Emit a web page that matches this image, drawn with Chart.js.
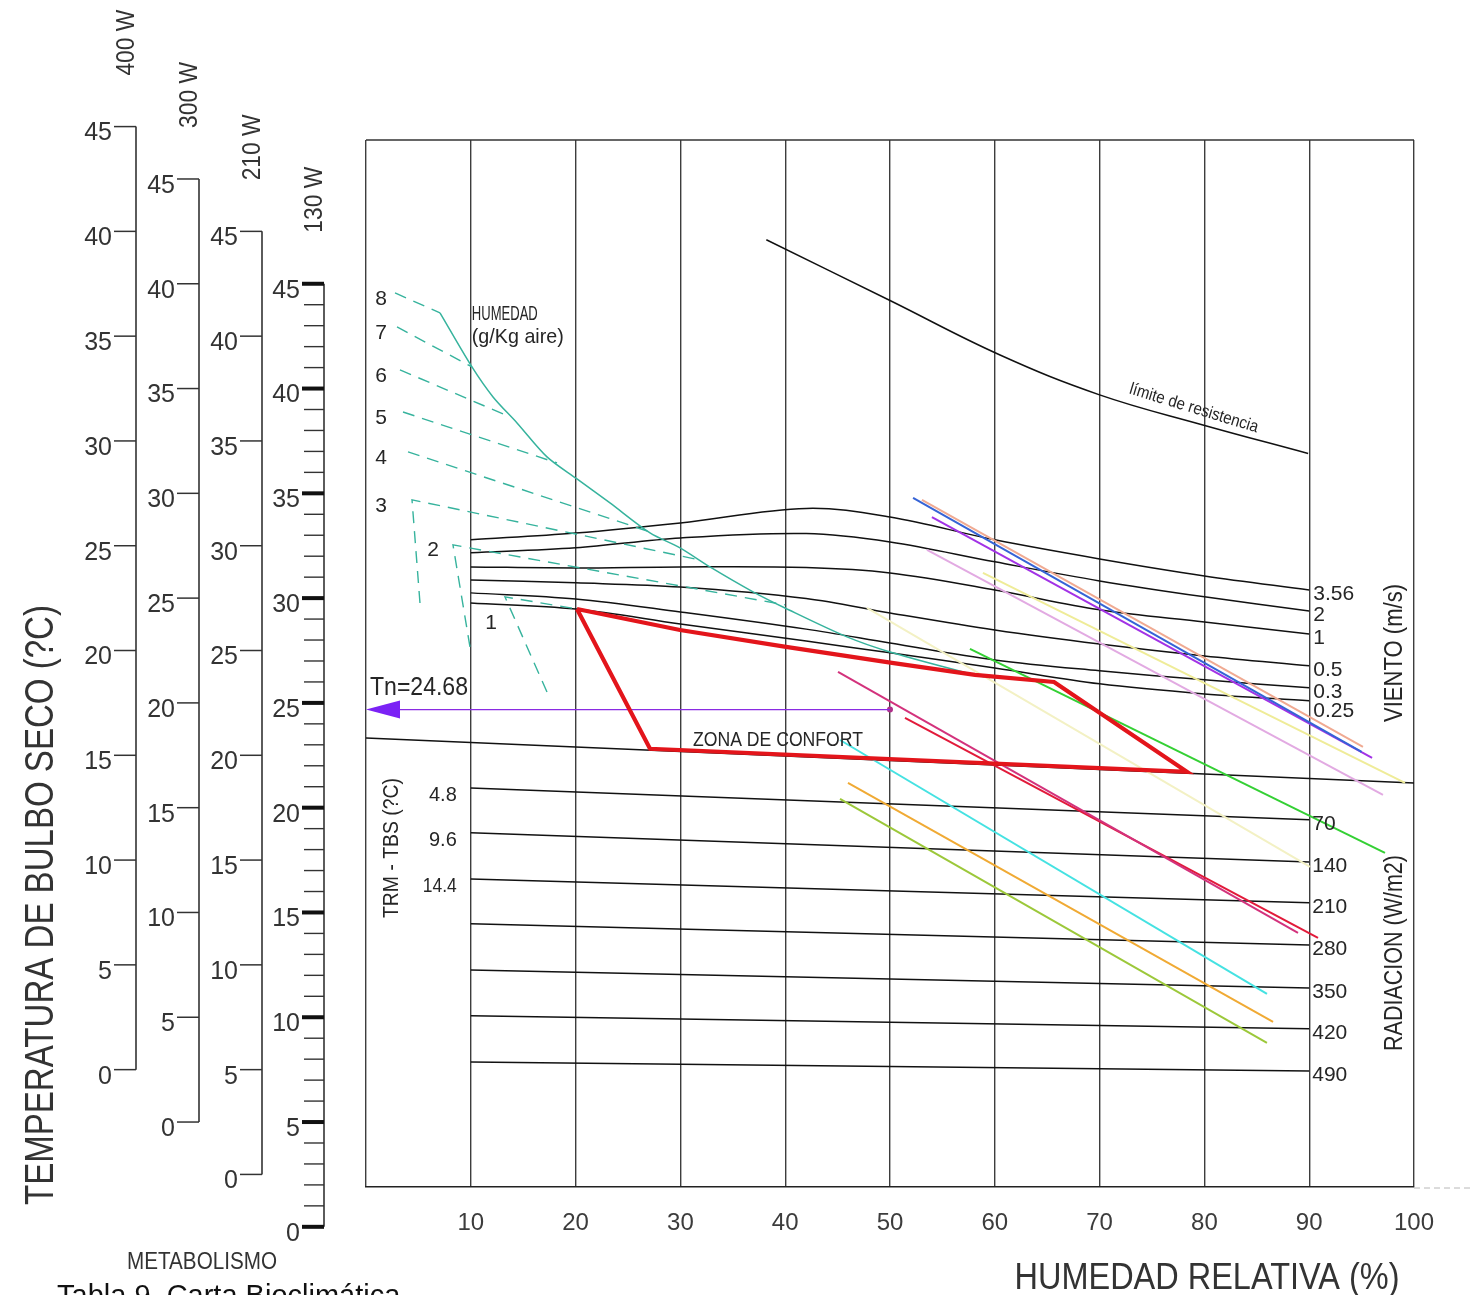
<!DOCTYPE html>
<html>
<head>
<meta charset="utf-8">
<title>Carta bioclimática</title>
<script src="https://cdn.jsdelivr.net/npm/chart.js@4.4.1/dist/chart.umd.min.js"></script>
<style>
  html, body { margin: 0; padding: 0; background: #fff; }
  #wrap { width: 1471px; height: 1295px; }
</style>
</head>
<body>
<div id="wrap"><canvas id="carta" width="1471" height="1295"></canvas></div>
<script>
// humedad relativa (%) and dry bulb temperature (C) axes
var rhTicks = [10, 20, 30, 40, 50, 60, 70, 80, 90, 100];
var tempTicks = [0, 5, 10, 15, 20, 25, 30, 35, 40, 45];
var metabLabels = ['130 W', '210 W', '300 W', '400 W'];
var metabShift = [0, 2.5, 5, 7.5];

// limite de resistencia
var limitRH = [38.2, 50.0, 60.5, 70.0, 79.6, 89.9];
var limitT = [47.1, 44.2, 41.6, 39.7, 38.3, 36.9];

// viento (m/s)
var windLabels = ['3.56', '2', '1', '0.5', '0.3', '0.25'];
var windRH = [10, 20, 30, 42, 50, 60, 70, 80, 90];
var windT = [
  [32.78, 33.11, 33.59, 34.28, 33.87, 32.78, 31.87, 31.06, 30.39],
  [32.16, 32.40, 32.87, 33.08, 32.68, 31.73, 30.82, 30.06, 29.39],
  [31.49, 31.44, 31.49, 31.46, 31.20, 30.39, 29.44, 28.86, 28.29],
  [30.87, 30.73, 30.53, 29.98, 29.29, 28.48, 27.81, 27.24, 26.77],
  [30.25, 29.96, 29.34, 28.52, 27.86, 27.05, 26.53, 26.10, 25.72],
  [29.77, 29.48, 28.77, 27.95, 27.39, 26.67, 25.91, 25.43, 25.10]
];

// radiacion (W/m2) and TRM - TBS
var radLabels = ['70', '140', '210', '280', '350', '420', '490'];
var trmLabels = ['4.8', '9.6', '14.4'];
var radRH = [10, 90];
var radT = [
  [20.94, 19.42],
  [18.80, 17.41],
  [16.60, 15.46],
  [14.46, 13.45],
  [12.26, 11.40],
  [10.07, 9.45],
  [7.87, 7.44]
];
var baseRH = [0, 100];
var baseT = [23.33, 21.18];

// zona de confort
var comfortRH = [20.13, 29.96, 40.08, 50.19, 58.11, 65.65, 78.34, 27.10, 20.13];
var comfortT = [29.48, 28.48, 27.67, 26.91, 26.34, 26.00, 21.71, 22.81, 29.48];

// humedad (g/Kg aire)
var humLabels = ['8', '7', '6', '5', '4', '3', '2', '1'];
var humRH = [
  [2.77, 7.06], [2.96, 10.11], [3.24, 13.74], [3.53, 18.23], [4.01, 27.10],
  [5.15, 4.39, 31.87], [9.92, 8.30, 39.98], [17.27, 13.26, 20.13]
];
var humT = [
  [44.56, 43.61], [42.94, 41.03], [40.89, 38.65], [38.88, 36.45], [36.98, 33.16],
  [29.77, 34.69, 31.82], [27.67, 32.54, 29.68], [25.52, 30.06, 29.48]
];
var satRH = [7.06, 10.11, 12.12, 14.41, 17.27, 20.13, 23.28, 27.10, 29.96, 32.82, 36.93, 39.98, 45.90, 50.0, 57.35, 59.54];
var satT = [43.61, 41.03, 39.60, 38.36, 36.74, 35.69, 34.54, 33.11, 32.40, 31.49, 30.30, 29.53, 28.15, 27.43, 26.43, 26.19];

// enfriamiento / correction lines
var corrColors = ['#3563d6', '#f0aa92', '#a232e6', '#e2aae2', '#efec98', '#f3f1c4',
                  '#34d034', '#d3327c', '#e21a3a', '#45e2e2', '#f0aa34', '#9cc83a'];
var corrRH = [
  [52.2, 95.0], [53.05, 95.13], [54.0, 96.0], [53.53, 97.04], [58.87, 99.14], [47.8, 90.08],
  [57.63, 97.23], [45.04, 88.93], [51.43, 90.84], [45.23, 85.97], [45.99, 86.55], [45.23, 85.97]
];
var corrT = [
  [34.78, 22.66], [34.69, 22.90], [33.87, 22.38], [32.30, 20.61], [31.20, 21.18], [29.53, 17.18],
  [27.58, 17.84], [26.48, 14.03], [24.28, 13.79], [23.23, 11.12], [21.18, 9.78], [20.42, 8.78]
];

// temperatura neutra
var tn = 24.68;
var tnRH = [50, 2];

var FONT = '"Liberation Sans Narrow", "Liberation Sans", Arial, sans-serif';

function pts(xs, ys) {
  return xs.map(function (v, i) { return { x: v, y: ys[i] }; });
}

function lineSet(data, color, width, extra) {
  var ds = {
    data: data, showLine: true, borderColor: color, borderWidth: width,
    pointRadius: 0, fill: false, tension: 0, order: 5
  };
  for (var k in extra) ds[k] = extra[k];
  return ds;
}

var datasets = [];

datasets.push(lineSet(pts(comfortRH, comfortT), '#e3151b', 4.2, { order: 0, borderJoinStyle: 'miter' }));
datasets.push(lineSet(pts(tnRH, [tn, tn]), '#8a2be2', 1.4, { order: 1 }));
datasets.push(lineSet([{ x: tnRH[0], y: tn }], '#b0308a', 0, {
  showLine: false, pointRadius: 3, pointBackgroundColor: '#b0308a', pointBorderWidth: 0, order: 1
}));

corrColors.forEach(function (c, i) {
  datasets.push(lineSet(pts(corrRH[i], corrT[i]), c, 2, { order: 3 }));
});

datasets.push(lineSet(pts(limitRH, limitT), '#111', 1.5, { tension: 0.4 }));
windT.forEach(function (row) {
  datasets.push(lineSet(pts(windRH, row), '#111', 1.5, { tension: 0.35 }));
});
radT.forEach(function (row) {
  datasets.push(lineSet(pts(radRH, row), '#111', 1.5));
});
datasets.push(lineSet(pts(baseRH, baseT), '#111', 1.5));

humRH.forEach(function (row, i) {
  datasets.push(lineSet(pts(row, humT[i]), '#36b39d', 1.4, { borderDash: [12, 8], order: 4 }));
});
datasets.push(lineSet(pts(satRH, satT), '#36b39d', 1.5, { tension: 0.3, order: 4 }));

function txt(ctx, s, x, y, size, opt) {
  opt = opt || {};
  ctx.save();
  ctx.translate(x, y);
  if (opt.rot) ctx.rotate(opt.rot);
  ctx.font = size + 'px ' + FONT;
  ctx.fillStyle = opt.color || '#262626';
  ctx.textAlign = opt.align || 'left';
  ctx.textBaseline = 'middle';
  if (opt.w) ctx.fillText(s, 0, 0, opt.w);
  else ctx.fillText(s, 0, 0);
  ctx.restore();
}

function seg(ctx, x1, y1, x2, y2, w, c) {
  ctx.beginPath();
  ctx.lineWidth = w;
  ctx.strokeStyle = c || '#2a2a2a';
  ctx.moveTo(x1, y1);
  ctx.lineTo(x2, y2);
  ctx.stroke();
}

var cartaDecor = {
  id: 'cartaDecor',
  afterDraw: function (chart) {
    var ctx = chart.ctx, a = chart.chartArea;
    var xs = chart.scales.x, ys = chart.scales.y;
    var px = function (v) { return xs.getPixelForValue(v); };
    var py = function (v) { return ys.getPixelForValue(v); };
    ctx.save();

    // frame top and dashed continuation of the base line
    seg(ctx, a.left, a.top, a.right, a.top, 1.5, '#333');
    ctx.setLineDash([6, 4]);
    seg(ctx, a.right, a.bottom + 1, 1471, a.bottom + 1, 1, '#b8b8b8');
    ctx.setLineDash([]);

    // metabolism temperature scales
    var gap = [42, 104, 167, 230];
    metabLabels.forEach(function (lab, k) {
      var ax = a.left - gap[k];
      var sh = metabShift[k];
      var top = py(45 + sh), bot = py(sh);
      seg(ctx, ax, top, ax, bot, 1.6, '#333');
      if (k === 0) {
        for (var m = 1; m < 45; m++) {
          if (m % 5 !== 0) seg(ctx, ax - 20, py(m), ax, py(m), 1.4, '#333');
        }
      }
      tempTicks.forEach(function (t) {
        var y = py(t + sh);
        seg(ctx, ax - 22, y, ax, y, k === 0 ? 4 : 1.5, k === 0 ? '#111' : '#333');
        txt(ctx, String(t), ax - 24, y + 7, 25, { align: 'right', color: '#333' });
      });
      txt(ctx, lab, ax - 9, top - 84, 25, { align: 'center', rot: -Math.PI / 2, w: 66, color: '#333' });
    });
    txt(ctx, 'TEMPERATURA DE BULBO SECO (?C)', 42, 905, 40, { align: 'center', rot: -Math.PI / 2, w: 600, color: '#333' });
    txt(ctx, 'METABOLISMO', 202, 1263, 23, { align: 'center', w: 150, color: '#333' });
    txt(ctx, 'HUMEDAD RELATIVA (%)', 1207, 1279, 37, { align: 'center', w: 385, color: '#333' });
    ctx.font = '29px "Liberation Sans", Arial, sans-serif';
    ctx.fillStyle = '#111';
    ctx.textAlign = 'left';
    ctx.textBaseline = 'top';
    ctx.fillText('Tabla 9. Carta Bioclimática', 57, 1282);

    // wind labels
    windLabels.forEach(function (lab, i) {
      var row = windT[i];
      var y = py(row[row.length - 1]) + (i === windLabels.length - 1 ? 10 : 4);
      txt(ctx, lab, px(90) + 4, y, 21, { w: 48 });
    });
    txt(ctx, 'VIENTO (m/s)', 1395, 653, 25, { align: 'center', rot: -Math.PI / 2, w: 138 });

    // radiation labels
    radLabels.forEach(function (lab, i) {
      txt(ctx, lab, px(90) + 3, py(radT[i][1]) + 4, 21, { w: 40 });
    });
    txt(ctx, 'RADIACION (W/m2)', 1395, 953, 25, { align: 'center', rot: -Math.PI / 2, w: 196 });
    trmLabels.forEach(function (lab, i) {
      txt(ctx, lab, px(10) - 14, py(radT[i][0]) + 8, 20, { align: 'right', w: 34 });
    });
    txt(ctx, 'TRM - TBS (?C)', 392, 848, 22, { align: 'center', rot: -Math.PI / 2, w: 140 });

    // humidity labels
    humLabels.forEach(function (lab, i) {
      var r = humRH[i], t = humT[i];
      var hx, hy;
      if (i < 6) { hx = a.left + 15; hy = py(t[t.length - 2]) + 6; }
      else if (i === 6) { hx = px(r[1]) - 20; hy = py(t[1]) + 5; }
      else { hx = px(r[1]) - 14; hy = py(t[1]) + 26; }
      txt(ctx, lab, hx, hy, 21, { align: 'center' });
    });
    txt(ctx, 'HUMEDAD', px(10) + 1, py(43.56), 21, { w: 66 });
    txt(ctx, '(g/Kg aire)', px(10) + 1, py(42.47), 21, { w: 92 });

    // comfort zone, limit and neutral temperature
    txt(ctx, 'ZONA DE CONFORT', px(31.2), py(23.2), 21, { w: 170 });
    txt(ctx, 'límite de resistencia', px(79), py(39.05), 17, { align: 'center', rot: 17 * Math.PI / 180, w: 134 });
    var ty = py(tn);
    ctx.beginPath();
    ctx.fillStyle = '#7b22f5';
    ctx.moveTo(px(0), ty);
    ctx.lineTo(px(0) + 34, ty - 9);
    ctx.lineTo(px(0) + 34, ty + 9);
    ctx.closePath();
    ctx.fill();
    txt(ctx, 'Tn=' + tn, px(0) + 4, ty - 21, 25, { w: 98 });

    ctx.restore();
  }
};

new Chart(document.getElementById('carta'), {
  type: 'scatter',
  data: { datasets: datasets },
  options: {
    responsive: false,
    animation: false,
    devicePixelRatio: 1,
    layout: { padding: { left: 366, right: 57, top: 140, bottom: 0 } },
    plugins: { legend: { display: false }, tooltip: { enabled: false } },
    elements: { point: { radius: 0 } },
    scales: {
      x: {
        type: 'linear', min: 0, max: 100,
        afterBuildTicks: function (s) {
          s.ticks = [0].concat(rhTicks).map(function (v) { return { value: v }; });
        },
        afterFit: function (s) { s.height = 108; },
        ticks: {
          callback: function (v) { return v === 0 ? '' : v; },
          font: { family: FONT, size: 24 },
          color: '#3c3c3c',
          padding: 22,
          maxRotation: 0,
          autoSkip: false
        },
        grid: { color: '#3d3d3d', lineWidth: 1.4, drawTicks: false },
        border: { display: true, color: '#222', width: 1.6 }
      },
      y: { type: 'linear', min: 1.9, max: 51.86, display: false }
    }
  },
  plugins: [cartaDecor]
});
</script>
</body>
</html>
